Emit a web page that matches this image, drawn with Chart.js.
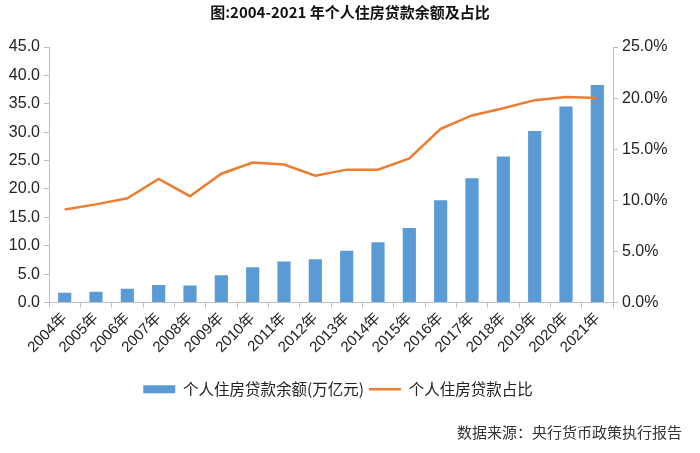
<!DOCTYPE html>
<html><head><meta charset="utf-8">
<script src="https://cdn.jsdelivr.net/npm/chart.js@4/dist/chart.umd.min.js"></script>
<style>
html,body{margin:0;padding:0;background:#fff;}
#wrap{position:relative;width:700px;height:453px;}
#src{position:absolute;left:457px;top:421px;font:15px "Noto Sans CJK SC",sans-serif;color:#333;white-space:nowrap;}
</style></head><body>
<div id="wrap"><canvas id="c" width="700" height="453"></canvas><div id="src">数据来源：央行货币政策执行报告</div></div>
<script>
const categories = ['2004年','2005年','2006年','2007年','2008年','2009年','2010年','2011年','2012年','2013年','2014年','2015年','2016年','2017年','2018年','2019年','2020年','2021年'];
const balance = [1.7, 1.9, 2.4, 3.1, 3.0, 4.8, 6.2, 7.2, 7.6, 9.1, 10.6, 13.1, 18.0, 21.9, 25.7, 30.2, 34.5, 38.3];
const share = [9.1, 9.6, 10.2, 12.1, 10.4, 12.6, 13.7, 13.5, 12.4, 13.0, 13.0, 14.1, 17.0, 18.3, 19.0, 19.8, 20.1, 20.0];
const seriesNames = ['个人住房贷款余额(万亿元)', '个人住房贷款占比'];
const titleText = '图:2004-2021 年个人住房贷款余额及占比';

Chart.defaults.font.family = '"Liberation Sans", Arial, "Noto Sans CJK SC", sans-serif';
Chart.defaults.color = '#222';
const axisColor = '#bfbfbf';

const legendShift = {
  id: 'legendShift',
  afterLayout(chart) {
    if (chart.legend) { chart.legend.left -= 12; chart.legend.right -= 12; }
  }
};

new Chart(document.getElementById('c'), {
  data: {
    labels: categories,
    datasets: [
      { type: 'line', label: seriesNames[1], data: share, yAxisID: 'y2',
        borderColor: '#ED7D31', backgroundColor: '#ED7D31', borderWidth: 2.5,
        pointRadius: 0, pointStyle: 'line', tension: 0, order: 0 },
      { type: 'bar', label: seriesNames[0], data: balance, yAxisID: 'y',
        backgroundColor: '#5B9BD5', borderWidth: 0, pointStyle: 'rect',
        barPercentage: 0.42, categoryPercentage: 1, order: 1 }
    ]
  },
  plugins: [legendShift],
  options: {
    responsive: false, animation: false, devicePixelRatio: 1,
    layout: { padding: { top: 0, bottom: 46, left: 0, right: 0 } },
    plugins: {
      title: { display: true, text: titleText, color: '#111',
        font: { size: 15, weight: 'bold', family: '"Noto Sans CJK SC", sans-serif' },
        padding: { top: 3, bottom: 26 } },
      legend: { position: 'bottom', reverse: true,
        labels: { usePointStyle: true, pointStyleWidth: 32, boxHeight: 8,
          font: { size: 15.5, family: '"Noto Sans CJK SC", sans-serif' }, color: '#222', padding: 5 } },
      tooltip: { enabled: false }
    },
    scales: {
      x: { offset: true,
        grid: { display: true, drawOnChartArea: false, drawTicks: true, tickLength: 5, color: axisColor, offset: true },
        border: { display: true, color: axisColor },
        ticks: { maxRotation: 45, minRotation: 45, autoSkip: false, font: { size: 15 }, padding: 2 },
        afterFit: s => { s.height = 74; } },
      y: { position: 'left', min: 0, max: 45,
        grid: { drawOnChartArea: false, drawTicks: true, tickLength: 5, color: axisColor },
        border: { display: true, color: axisColor },
        ticks: { stepSize: 5, font: { size: 16 }, padding: 4, callback: v => v.toFixed(1) },
        afterFit: s => { s.width = 49; } },
      y2: { position: 'right', min: 0, max: 25,
        grid: { drawOnChartArea: false, drawTicks: true, tickLength: 5, color: axisColor },
        border: { display: true, color: axisColor },
        ticks: { stepSize: 5, font: { size: 16 }, padding: 4, callback: v => v.toFixed(1) + '%' },
        afterFit: s => { s.width = 87; } }
    }
  }
});
</script>
</body></html>
